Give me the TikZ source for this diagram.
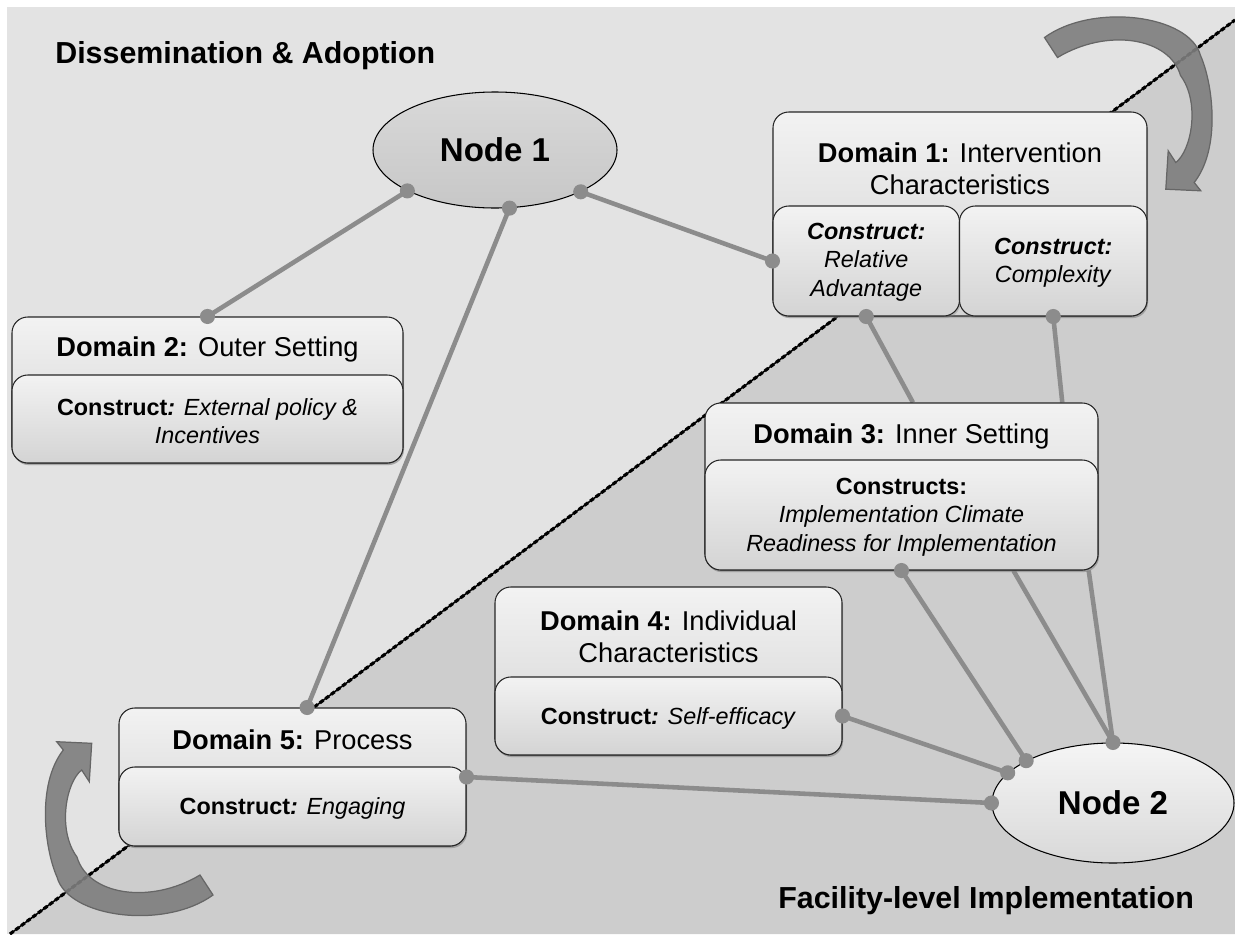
\documentclass[tikz,border=0pt]{standalone}
\usepackage{fontspec}
\setmainfont{Liberation Sans}
\usetikzlibrary{shapes.geometric,shadows,calc}
\pgfdeclarelayer{bg}
\pgfdeclarelayer{links}
\pgfdeclarelayer{front}
\pgfsetlayers{bg,links,main,front}

\definecolor{paneLight}{HTML}{E3E3E3}
\definecolor{paneDark}{HTML}{CDCDCD}
\definecolor{linkgray}{HTML}{8C8C8C}
\definecolor{arrowgray}{HTML}{7E7E7E}
\definecolor{arrowedge}{HTML}{666666}

% one drawing unit = 0.02cm
\newcommand{\ux}[1]{#1*0.02cm}

\tikzset{
  card/.style={draw=black!85, line width=0.6pt, rounded corners=9pt,
    top color=black!5, bottom color=black!17, inner sep=0pt,
    drop shadow={shadow xshift=0.6pt, shadow yshift=-1.2pt, opacity=0.35}},
  hdr/.style={inner sep=0pt, align=center, font=\fontsize{15.5}{18.2}\selectfont},
  cons/.style={inner sep=0pt, align=center, font=\fontsize{13.3}{16.2}\selectfont},
  region/.style={inner sep=0pt, font=\fontsize{17.3}{20}\selectfont\bfseries},
  hub/.style={ellipse, draw=black, line width=0.6pt, inner sep=0pt,
    font=\fontsize{18.8}{22}\selectfont\bfseries},
  link/.style={draw=linkgray, line width=2.6pt},
  dot/.style={fill=linkgray},
  arrowbody/.style={fill=arrowgray, draw=arrowedge, line width=0.7pt, fill opacity=0.9},
  turnarrow/.pic={
    \filldraw[arrowbody] (200,875) -- (213,895)
      .. controls (165,930) and (68,918) .. (57,877)
      .. controls (45,850) and (36,785) .. (63.3,750)
      -- (56.7,741.7) -- (91.7,743.3) -- (89.3,781.7) -- (81.7,770)
      .. controls (66,782) and (57,830) .. (77,857)
      .. controls (88,895) and (150,905) .. (200,875) -- cycle;
  }
}

\begin{document}
\begin{tikzpicture}[x=0.02cm, y=-0.02cm]
\useasboundingbox (0,0) rectangle (1235,934);

% two background panes split by the diagonal
\begin{pgfonlayer}{bg}
  \fill[white] (0,0) rectangle (1235,934);
  \fill[paneLight] (7,7) rectangle (1235,934);
  \fill[paneDark] (10,934) -- (1235,20) -- (1235,934) -- cycle;
  \draw[black, line width=0.9pt] (10,934) -- (1235,20);
  \draw[black, line width=1.8pt, dash pattern=on 2.5pt off 1.5pt] (10,934) -- (1235,20);
\end{pgfonlayer}

% region titles
\node[region, anchor=base west] (topTitle) at (55,63) {Dissemination \& Adoption};
\node[region, anchor=base west] (bottomTitle) at (778,908) {Facility-level Implementation};

% hubs
\node[hub, minimum width=\ux{244}, minimum height=\ux{116},
      top color=black!15, bottom color=black!22] (n1) at (495,150) {Node 1};
\node[hub, minimum width=\ux{242}, minimum height=\ux{120},
      top color=black!4, bottom color=black!15] (n2) at (1113,803) {Node 2};

% Domain 1
\node[card, minimum width=\ux{374}, minimum height=\ux{204}] (d1) at (960,214) {};
\node[card, minimum width=\ux{186.5}, minimum height=\ux{110}] (d1a) at (866.25,261) {};
\node[card, minimum width=\ux{187.5}, minimum height=\ux{110}] (d1b) at (1053.25,261) {};
\node[hdr] (d1t) at (960,169) {\textbf{Domain 1:} Intervention\\Characteristics};
\node[cons] (d1at) at (866.25,262) {\textbf{\textit{Construct:}}\\\textit{Relative}\\\textit{Advantage}};
\node[cons] (d1bt) at (1053.25,263) {\textbf{\textit{Construct:}}\\\textit{Complexity}};

% Domain 2
\node[card, minimum width=\ux{391}, minimum height=\ux{146}] (d2) at (207.5,390) {};
\node[card, minimum width=\ux{391}, minimum height=\ux{88}] (d2b) at (207.5,419) {};
\node[hdr] (d2t) at (207.5,349) {\textbf{Domain 2:} Outer Setting};
\node[cons] (d2c) at (207.5,421) {\textbf{Construct}\textbf{\textit{:}} \textit{External policy \&}\\\textit{Incentives}};

% Domain 3
\node[card, minimum width=\ux{393}, minimum height=\ux{167}] (d3) at (901.5,486.5) {};
\node[card, minimum width=\ux{393}, minimum height=\ux{110}] (d3b) at (901.5,515) {};
\node[hdr] (d3t) at (901.5,436) {\textbf{Domain 3:} Inner Setting};
\node[cons] (d3c) at (901.5,517) {\textbf{Constructs:}\\\textit{Implementation Climate}\\\textit{Readiness for Implementation}};

% Domain 4
\node[card, minimum width=\ux{347}, minimum height=\ux{168}] (d4) at (668.5,671) {};
\node[card, minimum width=\ux{347}, minimum height=\ux{78}] (d4b) at (668.5,716) {};
\node[hdr] (d4t) at (668.5,637) {\textbf{Domain 4:} Individual\\Characteristics};
\node[cons] (d4c) at (668.5,718) {\textbf{Construct}\textbf{\textit{:}} \textit{Self-efficacy}};

% Domain 5
\node[card, minimum width=\ux{347}, minimum height=\ux{138}] (d5) at (292.5,777) {};
\node[card, minimum width=\ux{347}, minimum height=\ux{79}] (d5b) at (292.5,806.5) {};
\node[hdr] (d5t) at (292.5,740) {\textbf{Domain 5:} Process};
\node[cons] (d5c) at (292.5,808) {\textbf{Construct}\textbf{\textit{:}} \textit{Engaging}};

% connector end points on box edges
\coordinate (d5top) at ($(d5.north west)!0.542!(d5.north east)$);
\coordinate (d3inA) at ($(d3.north west)!0.529!(d3.north east)$);
\coordinate (d3inB) at ($(d3.north west)!0.908!(d3.north east)$);
\coordinate (d3outA) at ($(d3.south west)!0.784!(d3.south east)$);
\coordinate (d3outB) at ($(d3.south west)!0.975!(d3.south east)$);

% connectors
\begin{pgfonlayer}{links}
  \draw[link] (n1.205) -- (d2.north);
  \draw[link] (n1.284) -- (d5top);
  \draw[link] (n1.334) -- (d1a.west);
  \draw[link] (d1a.south) -- (d3inA);
  \draw[link] (d1b.south) -- (d3inB);
  \draw[link] (d3.south) -- (n2.154);
  \draw[link] (d3outA) -- (n2.90);
  \draw[link] (d3outB) -- (n2.90);
  \draw[link] (d4b.east) -- (n2.164);
  \draw[link] (d5.east) -- (n2.180);
\end{pgfonlayer}

% connector dots and turning arrows
\begin{pgfonlayer}{front}
  \foreach \p in {n1.205, n1.284, n1.334, d2.north, d5top, d1a.west,
                  d1a.south, d1b.south, d3.south, n2.154, n2.90, n2.164,
                  n2.180, d4b.east, d5.east}
    \fill[dot] (\p) circle (4.3pt);
  \pic at (0,0) {turnarrow};
  \pic[rotate=180] at (1257.5,932.5) {turnarrow};
\end{pgfonlayer}
\end{tikzpicture}
\end{document}
